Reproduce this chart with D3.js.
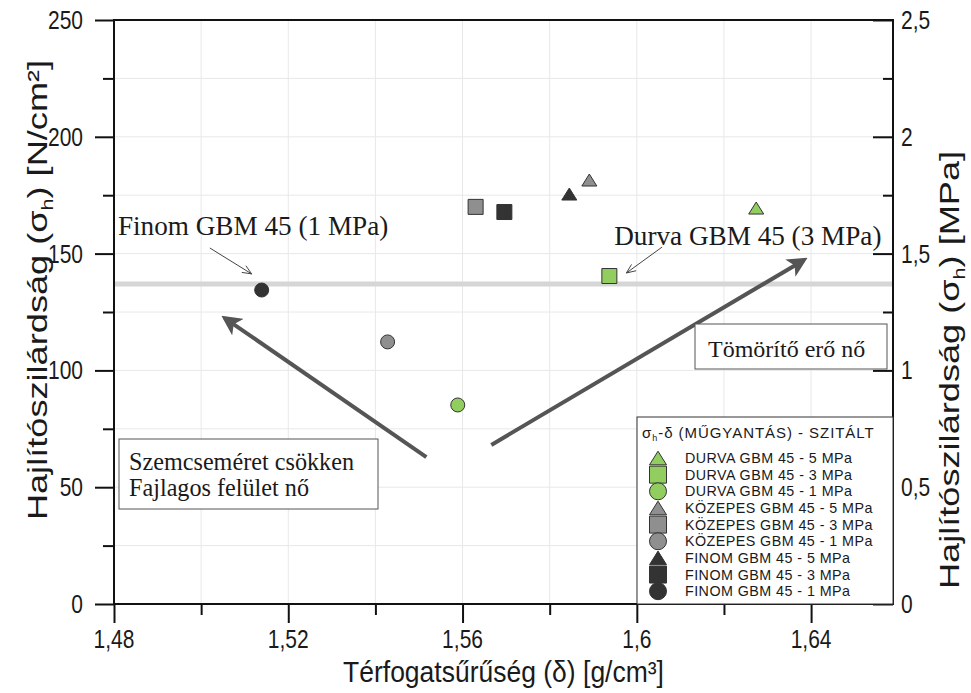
<!DOCTYPE html>
<html><head><meta charset="utf-8">
<script src="https://cdn.jsdelivr.net/npm/d3@7"></script>
<style>
body{margin:0;background:#fff;}
svg{display:block;}
text{font-family:"Liberation Sans",Arial,sans-serif;fill:#1a1a1a;}
.serif{font-family:"Liberation Serif","Times New Roman",serif;}
</style></head>
<body>
<svg id="chart" width="971" height="693"></svg>
<script>
// ---- data ----
const seriesNames = [
  "DURVA GBM 45 - 5 MPa","DURVA GBM 45 - 3 MPa","DURVA GBM 45 - 1 MPa",
  "KÖZEPES GBM 45 - 5 MPa","KÖZEPES GBM 45 - 3 MPa","KÖZEPES GBM 45 - 1 MPa",
  "FINOM GBM 45 - 5 MPa","FINOM GBM 45 - 3 MPa","FINOM GBM 45 - 1 MPa"];
const density  = [1.6274, 1.5937, 1.5589, 1.5891, 1.5630, 1.5428, 1.5845, 1.5696, 1.5139];
const strength = [169.5, 140.4, 85.2, 181.5, 170.0, 112.2, 175.5, 167.8, 134.4];
const grain    = ["DURVA","DURVA","DURVA","KÖZEPES","KÖZEPES","KÖZEPES","FINOM","FINOM","FINOM"];
const pressure = [5,3,1,5,3,1,5,3,1];
const xTicks = [1.48, 1.52, 1.56, 1.60, 1.64];
const xTickLabels = ["1,48","1,52","1,56","1,6","1,64"];
const yTicks = [0, 50, 100, 150, 200, 250];
const yTickLabels = ["0","50","100","150","200","250"];
const y2Ticks = [0, 0.5, 1, 1.5, 2, 2.5];
const y2TickLabels = ["0","0,5","1","1,5","2","2,5"];
const refLine = 137;
const legendTitle = "(MŰGYANTÁS) - SZITÁLT";

// ---- styles ----
const grainFill = {"DURVA":"#92cd5f","KÖZEPES":"#8f8f8f","FINOM":"#333333"};
const pressureShape = {5:"triangle",3:"square",1:"circle"};

const svg = d3.select("#chart");
const L=114, R=893, T=20, B=604;
const x = d3.scaleLinear().domain([1.48, 1.6588]).range([L, R]);
const y = d3.scaleLinear().domain([0, 250]).range([B, T]);
const y2 = d3.scaleLinear().domain([0, 2.5]).range([B, T]);
const K = 1.2; // vertical stretch of sans text

// grid
const gx = d3.range(1.50, 1.659, 0.02);
const gy = d3.range(25, 250, 25);
svg.append("g").selectAll("line").data(gx).join("line")
  .attr("x1",d=>x(d)).attr("x2",d=>x(d)).attr("y1",T).attr("y2",B)
  .attr("stroke","#e8e8e8").attr("stroke-width",1);
svg.append("g").selectAll("line").data(gy).join("line")
  .attr("y1",d=>y(d)).attr("y2",d=>y(d)).attr("x1",L).attr("x2",R)
  .attr("stroke","#e8e8e8").attr("stroke-width",1);

// reference line
svg.append("line").attr("x1",L).attr("x2",R).attr("y1",y(refLine)).attr("y2",y(refLine))
  .attr("stroke","#d6d6d6").attr("stroke-width",5);

// axes (ticks via d3 axes, labels drawn stretched)
const xAxis = d3.axisBottom(x).tickValues(xTicks).tickSize(19).tickFormat("");
svg.append("g").attr("transform",`translate(0,${B})`).call(xAxis);
const xMinor = d3.axisBottom(x).tickValues(d3.range(1.50,1.659,0.04)).tickSize(11).tickFormat("");
svg.append("g").attr("transform",`translate(0,${B})`).call(xMinor);

const yAxis = d3.axisLeft(y).tickValues(yTicks).tickSize(19).tickFormat("");
svg.append("g").attr("transform",`translate(${L},0)`).call(yAxis);
const yMinor = d3.axisLeft(y).tickValues(d3.range(25,250,50)).tickSize(11).tickFormat("");
svg.append("g").attr("transform",`translate(${L},0)`).call(yMinor);

const y2Axis = d3.axisRight(y2).tickValues(y2Ticks).tickSize(-20).tickFormat("");
svg.append("g").attr("transform",`translate(${R},0)`).call(y2Axis);
const y2Minor = d3.axisRight(y2).tickValues(d3.range(0.25,2.5,0.5)).tickSize(-10).tickFormat("");
svg.append("g").attr("transform",`translate(${R},0)`).call(y2Minor);

svg.selectAll(".tick line").attr("stroke","#111").attr("stroke-width",2);
svg.selectAll(".domain").remove();
svg.append("rect").attr("x",L).attr("y",T).attr("width",R-L).attr("height",B-T)
  .attr("fill","none").attr("stroke","#111").attr("stroke-width",2);

function sText(px, py, anchor, size, k, rot){
  return svg.append("text")
    .attr("transform",`translate(${px},${py})${rot?` rotate(${rot})`:""} scale(${rot?k:1},${rot?1:k})`)
    .attr("text-anchor",anchor).style("font-size",size+"px");
}
xTicks.forEach((v,i)=> sText(x(v), B+44, "middle", 21, K).text(xTickLabels[i]));
yTicks.forEach((v,i)=> sText(L-31, y(v)+9, "end", 21, K).text(yTickLabels[i]));
y2Ticks.forEach((v,i)=> sText(R+8, y2(v)+9, "start", 21, K).text(y2TickLabels[i]));

// axis titles
sText((L+R)/2, 682, "middle", 26.5, 1.1).text("Térfogatsűrűség (δ) [g/cm³]");

const ylt = sText(47, 290, "middle", 27, 1.34, -90);
ylt.append("tspan").text("Hajlítószilárdság (σ");
ylt.append("tspan").text("h").style("font-size","16px").attr("dy",6);
ylt.append("tspan").text(") [N/cm²]").attr("dy",-6);

const yrt = sText(959, 370, "middle", 27, 1.34, -90);
yrt.append("tspan").text("Hajlítószilárdság (σ");
yrt.append("tspan").text("h").style("font-size","16px").attr("dy",6);
yrt.append("tspan").text(") [MPa]").attr("dy",-6);

// arrow markers
const defs = svg.append("defs");
defs.append("marker").attr("id","bigHead").attr("viewBox","0 0 10 10").attr("refX",8).attr("refY",5)
  .attr("markerWidth",5).attr("markerHeight",5).attr("orient","auto").attr("markerUnits","strokeWidth")
  .append("path").attr("d","M0,0 L10,5 L0,10 L2.5,5 Z").attr("fill","#555");

// big arrows (data coords)
const bigArrows = [
  {x1:1.5517,y1:62.9,x2:1.5054,y2:122.4},
  {x1:1.5666,y1:68.1,x2:1.6384,y2:147.3}];
svg.append("g").selectAll("line").data(bigArrows).join("line")
  .attr("x1",d=>x(d.x1)).attr("y1",d=>y(d.y1)).attr("x2",d=>x(d.x2)).attr("y2",d=>y(d.y2))
  .attr("stroke","#555").attr("stroke-width",4).attr("marker-end","url(#bigHead)");

// thin arrows
const thinArrows = [
  {x1:1.5020,y1:152.4,x2:1.5116,y2:141.3},
  {x1:1.6058,y1:152.8,x2:1.5976,y2:141.7}];
svg.append("g").selectAll("line").data(thinArrows).join("line")
  .attr("x1",d=>x(d.x1)).attr("y1",d=>y(d.y1)).attr("x2",d=>x(d.x2)).attr("y2",d=>y(d.y2))
  .attr("stroke","#444").attr("stroke-width",1);
svg.append("g").selectAll("path").data(thinArrows).join("path")
  .attr("d",d=>{
    const X=x(d.x2),Y=y(d.y2),a=Math.atan2(Y-y(d.y1),X-x(d.x1)),l=10,w=0.4;
    return `M${X-l*Math.cos(a-w)},${Y-l*Math.sin(a-w)} L${X},${Y} L${X-l*Math.cos(a+w)},${Y-l*Math.sin(a+w)}`;})
  .attr("fill","none").attr("stroke","#444").attr("stroke-width",1);

// annotation labels
svg.append("text").attr("class","serif").attr("x",x(1.4809)).attr("y",y(158)).style("font-size","27.2px").text("Finom GBM 45 (1 MPa)");
svg.append("text").attr("class","serif").attr("x",x(1.5948)).attr("y",y(153.7)).style("font-size","27.2px").text("Durva GBM 45 (3 MPa)");

// boxes
svg.append("rect").attr("x",695).attr("y",324).attr("width",192).attr("height",45).attr("fill","#fff").attr("stroke","#555").attr("stroke-width",1);
svg.append("text").attr("class","serif").attr("x",708).attr("y",357).style("font-size","24px").text("Tömörítő erő nő");
svg.append("rect").attr("x",119).attr("y",439).attr("width",259).attr("height",70).attr("fill","#fff").attr("stroke","#555").attr("stroke-width",1);
svg.append("text").attr("class","serif").attr("x",129).attr("y",470).style("font-size","24.2px").text("Szemcseméret csökken");
svg.append("text").attr("class","serif").attr("x",129).attr("y",496).style("font-size","24.2px").text("Fajlagos felület nő");

// symbol path
function sym(shape, s){
  if(shape==="triangle"){const h=s*0.8;return `M0,${-h/2} L${s/2},${h/2} L${-s/2},${h/2} Z`;}
  if(shape==="square"){return `M${-s/2},${-s/2} h${s} v${s} h${-s} Z`;}
  const r=s/2; return `M${r},0 A${r},${r} 0 1,1 ${-r},0 A${r},${r} 0 1,1 ${r},0 Z`;
}
const idx = d3.range(seriesNames.length);
svg.append("g").selectAll("path").data(idx).join("path")
  .attr("transform",i=>`translate(${x(density[i])},${y(strength[i])})`)
  .attr("d",i=>sym(pressureShape[pressure[i]], pressure[i]===1?14:15))
  .attr("fill",i=>grainFill[grain[i]]).attr("stroke","#333").attr("stroke-width",1);

// legend
const lg = svg.append("g");
lg.append("rect").attr("x",637).attr("y",417).attr("width",256).attr("height",187).attr("fill","#fff").attr("stroke","#333").attr("stroke-width",1);
const lt = lg.append("text").attr("x",642).attr("y",438).style("font-size","15px").style("letter-spacing","0.95px");
lt.append("tspan").text("σ");
lt.append("tspan").text("h").style("font-size","9px").attr("dy",3);
lt.append("tspan").text("-δ " + legendTitle).attr("dy",-3);
const rows = lg.selectAll("g.row").data(idx).join("g").attr("class","row")
  .attr("transform",i=>`translate(658,${458+i*16.65})`);
rows.append("path").attr("d",i=>sym(pressureShape[pressure[i]],17))
  .attr("fill",i=>grainFill[grain[i]]).attr("stroke","#333").attr("stroke-width",1);
rows.append("text").attr("x",27).attr("y",5).style("font-size","14.3px").style("letter-spacing","0.45px").text(i=>seriesNames[i]);
</script>
</body></html>
